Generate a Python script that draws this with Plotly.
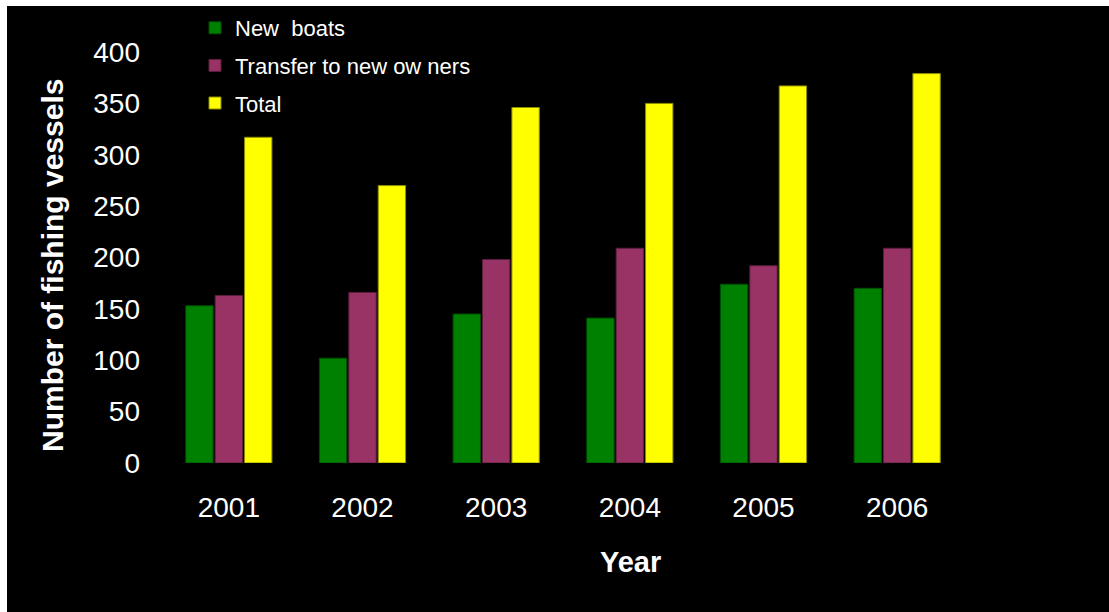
import plotly.graph_objects as go

# Fishing vessel counts by year
years = ["2001", "2002", "2003", "2004", "2005", "2006"]
new_boats = [153, 102, 145, 141, 174, 170]
transfers = [163, 166, 198, 209, 192, 209]
totals = [317, 270, 346, 350, 367, 379]

y_ticks = [0, 50, 100, 150, 200, 250, 300, 350, 400]

W, H = 1109, 612
ML, MR, MT, MB = 162, 145, 52, 149
pw, ph = W - ML - MR, H - MT - MB


def px_x(p):
    return (p - ML) / pw


def px_y(p):
    return (H - MB - p) / ph


series = [
    ("New  boats", new_boats, "#008000", "#004d00"),
    ("Transfer to new ow ners", transfers, "#993366", "#5c1f3d"),
    ("Total", totals, "#FFFF00", "#8c8c00"),
]

fig = go.Figure()
for i, (name, vals, col, edge) in enumerate(series):
    fig.add_trace(go.Bar(
        x=years, y=vals, name=name, legendgroup=str(i),
        marker=dict(color=col, line=dict(color=edge, width=1)),
    ))

fig.update_layout(
    width=W, height=H,
    margin=dict(l=ML, r=MR, t=MT, b=MB, pad=0, autoexpand=False),
    paper_bgcolor="white",
    plot_bgcolor="black",
    barmode="group",
    bargap=0.34,
    bargroupgap=0.07,
    font=dict(family="Liberation Sans, Arial, sans-serif", color="white"),
    showlegend=True,
    legend=dict(
        x=px_x(195), y=px_y(7), xanchor="left", yanchor="top",
        bgcolor="rgba(0,0,0,0)", font=dict(size=22, color="white"),
        traceorder="grouped", tracegroupgap=6,
    ),
    xaxis=dict(
        showgrid=False, zeroline=False, showline=False, ticks="",
        tickfont=dict(size=28, color="white"), ticklabelstandoff=25,
    ),
    yaxis=dict(
        range=[0, 400], tickvals=y_ticks, showgrid=False, zeroline=False,
        showline=False, ticks="", tickfont=dict(size=28, color="white"),
        ticklabelstandoff=21,
    ),
    shapes=[dict(
        type="rect", xref="paper", yref="paper", layer="below",
        x0=px_x(7), x1=px_x(W + 5), y0=px_y(6), y1=px_y(H + 5),
        fillcolor="black", line=dict(width=0),
    )],
    annotations=[
        dict(text="<b>Number of fishing vessels</b>", xref="paper", yref="paper",
             x=px_x(52), y=px_y(266), xanchor="center", yanchor="middle",
             textangle=-90, showarrow=False, font=dict(size=30, color="white")),
        dict(text="<b>Year</b>", xref="paper", yref="paper",
             x=px_x(630), y=px_y(562), xanchor="center", yanchor="middle",
             showarrow=False, font=dict(size=29, color="white")),
    ],
)

fig.write_html("out.html")
